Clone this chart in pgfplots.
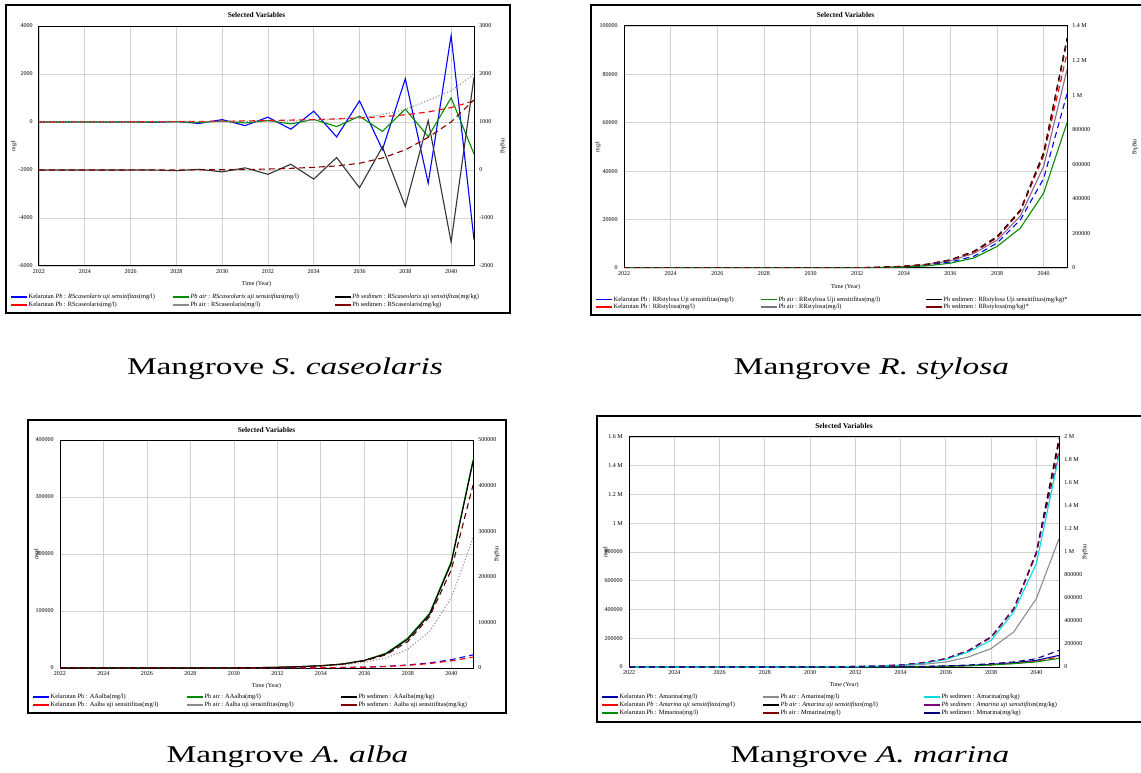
\documentclass[border=0pt]{standalone}
\usepackage{fontspec}
\setmainfont{Liberation Serif}
\usepackage{pgfplots}
\pgfplotsset{compat=1.18}

\definecolor{vblue}{RGB}{0,0,255}
\definecolor{vred}{RGB}{255,0,0}
\definecolor{vgreen}{RGB}{0,140,0}
\definecolor{vgray}{RGB}{140,140,140}
\definecolor{vpgray}{RGB}{130,110,140}
\definecolor{vdred}{RGB}{128,0,0}
\definecolor{vcyan}{RGB}{0,220,220}
\definecolor{vpurple}{RGB}{128,0,128}
\definecolor{vnavy}{RGB}{0,0,128}
\definecolor{gridgray}{RGB}{210,210,210}

\newcommand{\legbox}[2]{\makebox[#1][l]{#2}}

\pgfplotsset{
  vbase/.style={scale only axis, xmin=2022, xmax=2041, scaled ticks=false,
    tick style={draw=none}, axis line style={line width=0.5pt},
    ticklabel style={font=\fontsize{3}{3.5}\selectfont, inner sep=0pt},
    label style={font=\fontsize{3}{3.5}\selectfont},
    every axis plot/.append style={line width=0.55pt}},
  vleft/.style={vbase, xtick={2022,2024,...,2040},
    xticklabels={2022,2024,2026,2028,2030,2032,2034,2036,2038,2040},
    grid=major, major grid style={line width=0.35pt, gridgray},
    xticklabel style={anchor=center, yshift=-3pt},
    yticklabel style={anchor=east, xshift=-3pt},
    title={Selected Variables},
    title style={font=\bfseries\fontsize{3.7}{4}\selectfont, at={(axis description cs:0.5,1)}, anchor=center},
    xlabel={Time (Year)}, xlabel style={at={(axis description cs:0.5,0)}, anchor=center},
    ylabel={mg/l},
    legend columns=3, legend cell align=left,
    legend style={draw=none, fill=none, inner sep=0pt, row sep=0pt, column sep=0pt, anchor=north west,
      nodes={inner sep=0.3pt, font=\fontsize{3.2}{3.5}\selectfont, text height=2.5pt, text depth=0.85pt}},
    legend image code/.code={\draw[##1, line width=0.85pt] (0pt,0pt) -- (8pt,0pt);}},
  vright/.style={vbase, axis x line=none, axis y line*=right,
    yticklabel style={anchor=west, xshift=2.5pt},
    ylabel={mg/kg}, ylabel style={anchor=center, rotate=180}},
}

\begin{document}
\begin{tikzpicture}
\useasboundingbox (0,0) rectangle (570.5pt,386pt);
\draw[line width=0.9pt] (3pt,229.5pt) rectangle (255pt,383.5pt);
\draw[line width=0.9pt] (295.5pt,228.5pt) rectangle (575pt,383.5pt);
\draw[line width=0.9pt] (14pt,29.5pt) rectangle (253pt,176pt);
\draw[line width=0.9pt] (298.5pt,25pt) rectangle (575pt,178pt);

% ---------------- S. caseolaris ----------------
\begin{axis}[vleft, at={(19.5pt,253pt)}, width=217.5pt, height=120pt,
  ymin=-6000, ymax=4000, ytick={-6000,-4000,-2000,0,2000,4000},
  yticklabels={-6000,-4000,-2000,0,2000,4000},
  title style={yshift=-0.5pt}, xlabel style={yshift=-9pt},
  ylabel style={at={(axis description cs:-0.0575,0.5)}, anchor=center},
  legend style={at={(-0.0667,-0.1125)}}]
\addlegendimage{vblue}\addlegendentry{\legbox{71.5pt}{Kelarutan \textit{Pb} : \textit{RScaseolaris uji sensitifitas}(mg/l)}}
\addlegendimage{vgreen}\addlegendentry{\legbox{71.5pt}{\textit{Pb air} : \textit{RScaseolaris uji sensitifitas}(mg/l)}}
\addlegendimage{black}\addlegendentry{\legbox{71.5pt}{\textit{Pb sedimen} : \textit{RScaseolaris uji sensitifitas}(mg/kg)}}
\addlegendimage{vred}\addlegendentry{\legbox{71.5pt}{Kelarutan Pb : RScaseolaris(mg/l)}}
\addlegendimage{vgray}\addlegendentry{\legbox{71.5pt}{Pb air : RScaseolaris(mg/l)}}
\addlegendimage{vdred}\addlegendentry{\legbox{71.5pt}{Pb sedimen : RScaseolaris(mg/kg)}}
\addplot[forget plot, vblue] coordinates {(2022,0)(2023,0)(2024,5)(2025,-10)(2026,10)(2027,-15)(2028,20)(2029,-60)(2030,100)(2031,-150)(2032,200)(2033,-300)(2034,450)(2035,-620)(2036,880)(2037,-1150)(2038,1800)(2039,-2550)(2040,3600)(2041,-4900)};
\addplot[forget plot, vgreen] coordinates {(2022,0)(2023,0)(2024,0)(2025,0)(2026,0)(2027,0)(2028,10)(2029,-20)(2030,40)(2031,-40)(2032,60)(2033,-80)(2034,110)(2035,-190)(2036,240)(2037,-390)(2038,540)(2039,-610)(2040,1010)(2041,-1330)};
\addplot[forget plot, vred, densely dashed] coordinates {(2022,0)(2023,2)(2024,4)(2025,6)(2026,9)(2027,13)(2028,18)(2029,25)(2030,34)(2031,45)(2032,60)(2033,80)(2034,100)(2035,130)(2036,170)(2037,220)(2038,300)(2039,420)(2040,600)(2041,880)};
\addplot[forget plot, vgray, densely dotted] coordinates {(2022,0)(2023,0)(2024,0)(2025,1)(2026,2)(2027,3)(2028,5)(2029,8)(2030,12)(2031,18)(2032,28)(2033,45)(2034,70)(2035,110)(2036,180)(2037,300)(2038,520)(2039,900)(2040,1300)(2041,2000)};
\end{axis}
\begin{axis}[vright, at={(19.5pt,253pt)}, width=217.5pt, height=120pt,
  ymin=-2000, ymax=3000, ytick={-2000,-1000,0,1000,2000,3000},
  yticklabels={-2000,-1000,0,1000,2000,3000},
  ylabel style={at={(axis description cs:1.0667,0.5)}}]
\addplot[black!80] coordinates {(2022,0)(2023,0)(2024,0)(2025,0)(2026,0)(2027,0)(2028,-15)(2029,15)(2030,-40)(2031,45)(2032,-90)(2033,120)(2034,-190)(2035,260)(2036,-370)(2037,480)(2038,-760)(2039,1030)(2040,-1500)(2041,1930)};
\addplot[vdred, densely dashed] coordinates {(2022,0)(2023,0)(2024,0)(2025,0)(2026,1)(2027,2)(2028,3)(2029,4)(2030,5)(2031,10)(2032,20)(2033,35)(2034,55)(2035,85)(2036,140)(2037,250)(2038,420)(2039,680)(2040,1000)(2041,1460)};
\end{axis}

% ---------------- R. stylosa ----------------
\begin{axis}[vleft, at={(312pt,252pt)}, width=221.5pt, height=121pt,
  ymin=0, ymax=100000, ytick={0,20000,40000,60000,80000,100000},
  yticklabels={0,20000,40000,60000,80000,100000},
  title style={yshift=-0.5pt}, xlabel style={yshift=-9.5pt},
  ylabel style={at={(axis description cs:-0.0587,0.5)}, anchor=center},
  legend style={at={(-0.0655,-0.1116)}}]
\addlegendimage{vblue}\addlegendentry{\legbox{73pt}{Kelarutan Pb : RRstylosa Uji sensitifitas(mg/l)}}
\addlegendimage{vgreen}\addlegendentry{\legbox{73pt}{Pb air : RRstylosa Uji sensitifitas(mg/l)}}
\addlegendimage{black}\addlegendentry{\legbox{73pt}{Pb sedimen : RRstylosa Uji sensitifitas(mg/kg)*}}
\addlegendimage{vred}\addlegendentry{\legbox{73pt}{Kelarutan Pb : RRstylosa(mg/l)}}
\addlegendimage{vpgray}\addlegendentry{\legbox{73pt}{Pb air : RRstylosa(mg/l)}}
\addlegendimage{vdred}\addlegendentry{\legbox{73pt}{Pb sedimen : RRstylosa(mg/kg)*}}
\addplot[forget plot, vred, densely dashed] coordinates {(2022,0)(2026,0)(2030,0)(2031,30)(2032,100)(2033,300)(2034,700)(2035,1500)(2036,3200)(2037,6500)(2038,12500)(2039,23500)(2040,46500)(2041,88600)};
\addplot[forget plot, vpgray] coordinates {(2022,0)(2026,0)(2030,0)(2031,25)(2032,90)(2033,270)(2034,600)(2035,1400)(2036,3000)(2037,6000)(2038,11500)(2039,21500)(2040,42000)(2041,82000)};
\addplot[forget plot, vblue, densely dashed] coordinates {(2022,0)(2026,0)(2030,0)(2031,20)(2032,80)(2033,230)(2034,500)(2035,1200)(2036,2500)(2037,4800)(2038,10300)(2039,19900)(2040,37000)(2041,72000)};
\addplot[forget plot, vgreen] coordinates {(2022,0)(2026,0)(2030,0)(2031,15)(2032,60)(2033,180)(2034,400)(2035,900)(2036,2000)(2037,4100)(2038,8900)(2039,16500)(2040,31000)(2041,60000)};
\end{axis}
\begin{axis}[vright, at={(312pt,252pt)}, width=221.5pt, height=121pt,
  ymin=0, ymax=1400000, ytick={0,200000,400000,600000,800000,1000000,1200000,1400000},
  yticklabels={0,200000,400000,600000,800000,1 M,1.2 M,1.4 M},
  ylabel style={at={(axis description cs:1.1535,0.5)}}]
\addplot[black, densely dashed] coordinates {(2022,0)(2026,0)(2030,0)(2031,400)(2032,1400)(2033,4500)(2034,10000)(2035,22000)(2036,48000)(2037,97000)(2038,182000)(2039,336000)(2040,670000)(2041,1330000)};
\addplot[vdred, densely dashed] coordinates {(2022,0)(2026,0)(2030,0)(2031,380)(2032,1300)(2033,4200)(2034,9500)(2035,21000)(2036,46000)(2037,94000)(2038,176000)(2039,330000)(2040,655000)(2041,1310000)};
\end{axis}

% ---------------- A. alba ----------------
\begin{axis}[vleft, at={(30pt,52pt)}, width=206.5pt, height=114pt,
  ymin=0, ymax=400000, ytick={0,100000,200000,300000,400000},
  yticklabels={0,100000,200000,300000,400000},
  title style={yshift=-1pt}, xlabel style={yshift=-9pt},
  ylabel style={at={(axis description cs:-0.0557,0.5)}, anchor=center},
  legend style={at={(-0.0678,-0.1096)}}]
\addlegendimage{vblue}\addlegendentry{\legbox{67.5pt}{Kelarutan Pb : AAalba(mg/l)}}
\addlegendimage{vgreen}\addlegendentry{\legbox{67.5pt}{Pb air : AAalba(mg/l)}}
\addlegendimage{black}\addlegendentry{\legbox{67.5pt}{Pb sedimen : AAalba(mg/kg)}}
\addlegendimage{vred}\addlegendentry{\legbox{67.5pt}{Kelarutan Pb : Aalba uji sensitifitas(mg/l)}}
\addlegendimage{vgray}\addlegendentry{\legbox{67.5pt}{Pb air : Aalba uji sensitifitas(mg/l)}}
\addlegendimage{vdred}\addlegendentry{\legbox{67.5pt}{Pb sedimen : Aalba uji sensitifitas(mg/kg)}}
\addplot[forget plot, vgreen] coordinates {(2022,0)(2026,0)(2028,30)(2029,100)(2030,300)(2031,600)(2032,1200)(2033,2300)(2034,4000)(2035,7000)(2036,13400)(2037,26000)(2038,52500)(2039,96000)(2040,187000)(2041,365000)};
\addplot[forget plot, vgray, densely dotted] coordinates {(2022,0)(2026,0)(2028,20)(2029,70)(2030,200)(2031,450)(2032,900)(2033,1700)(2034,3000)(2035,5500)(2036,10000)(2037,17500)(2038,33000)(2039,64000)(2040,123000)(2041,228000)};
\addplot[forget plot, vblue, densely dashed] coordinates {(2022,0)(2026,0)(2029,20)(2030,40)(2031,80)(2032,150)(2033,280)(2034,500)(2035,900)(2036,1600)(2037,2900)(2038,5300)(2039,8800)(2040,14600)(2041,23000)};
\addplot[forget plot, vred, densely dashed] coordinates {(2022,0)(2026,0)(2029,15)(2030,35)(2031,70)(2032,130)(2033,250)(2034,450)(2035,800)(2036,1400)(2037,2600)(2038,4700)(2039,7800)(2040,12500)(2041,19000)};
\end{axis}
\begin{axis}[vright, at={(30pt,52pt)}, width=206.5pt, height=114pt,
  ymin=0, ymax=500000, ytick={0,100000,200000,300000,400000,500000},
  yticklabels={0,100000,200000,300000,400000,500000},
  ylabel style={at={(axis description cs:1.058,0.5)}}]
\addplot[black] coordinates {(2022,0)(2026,0)(2028,40)(2029,120)(2030,370)(2031,750)(2032,1500)(2033,2900)(2034,5000)(2035,8800)(2036,16500)(2037,31000)(2038,63000)(2039,117000)(2040,230000)(2041,452000)};
\addplot[vdred!60!black, densely dashed] coordinates {(2022,0)(2026,0)(2028,35)(2029,110)(2030,350)(2031,700)(2032,1400)(2033,2700)(2034,4700)(2035,8300)(2036,15500)(2037,29000)(2038,58000)(2039,112500)(2040,215000)(2041,401000)};
\end{axis}

% ---------------- A. marina ----------------
\begin{axis}[vleft, at={(314.5pt,52.5pt)}, width=215pt, height=115pt,
  ymin=0, ymax=1600000, ytick={0,200000,400000,600000,800000,1000000,1200000,1400000,1600000},
  yticklabels={0,200000,400000,600000,800000,1 M,1.2 M,1.4 M,1.6 M},
  title style={yshift=-0.5pt}, xlabel style={yshift=-9pt},
  ylabel style={at={(axis description cs:-0.0535,0.5)}, anchor=center},
  legend style={at={(-0.0651,-0.113)}}]
\addlegendimage{vnavy!60!vblue}\addlegendentry{\legbox{71pt}{Kelarutan Pb : Amarina(mg/l)}}
\addlegendimage{vgray}\addlegendentry{\legbox{71pt}{Pb air : Amarina(mg/l)}}
\addlegendimage{vcyan}\addlegendentry{\legbox{71pt}{Pb sedimen : Amarina(mg/kg)}}
\addlegendimage{vred}\addlegendentry{\legbox{71pt}{Kelarutan \textit{Pb} : \textit{Amarina uji sensitifitas}(mg/l)}}
\addlegendimage{black}\addlegendentry{\legbox{71pt}{\textit{Pb air} : \textit{Amarina uji sensitifitas}(mg/l)}}
\addlegendimage{vpurple}\addlegendentry{\legbox{71pt}{\textit{Pb sedimen} : \textit{Amarina uji sensitifitas}(mg/kg)}}
\addlegendimage{vgreen}\addlegendentry{\legbox{71pt}{Kelarutan Pb : Mmarina(mg/l)}}
\addlegendimage{vdred}\addlegendentry{\legbox{71pt}{Pb air : Mmarina(mg/l)}}
\addlegendimage{vnavy}\addlegendentry{\legbox{71pt}{Pb sedimen : Mmarina(mg/kg)}}
\addplot[forget plot, vgray] coordinates {(2022,0)(2026,0)(2028,60)(2029,200)(2030,500)(2031,1100)(2032,2200)(2033,4500)(2034,9000)(2035,18600)(2036,35000)(2037,70000)(2038,128000)(2039,244000)(2040,476000)(2041,893000)};
\addplot[forget plot, vdred, densely dashed] coordinates {(2022,0)(2026,0)(2028,100)(2029,400)(2030,800)(2031,1700)(2032,3500)(2033,7000)(2034,14000)(2035,29000)(2036,57000)(2037,113000)(2038,205000)(2039,400000)(2040,790000)(2041,1560000)};
\addplot[forget plot, black, densely dashed] coordinates {(2022,0)(2026,0)(2028,100)(2029,400)(2030,800)(2031,1700)(2032,3500)(2033,7000)(2034,14000)(2035,30000)(2036,58000)(2037,116000)(2038,209000)(2039,406000)(2040,800000)(2041,1590000)};
\addplot[forget plot, vnavy!60!vblue] coordinates {(2022,0)(2026,0)(2030,50)(2031,120)(2032,300)(2033,700)(2034,1500)(2035,3000)(2036,6000)(2037,11000)(2038,18000)(2039,30000)(2040,46000)(2041,81000)};
\addplot[forget plot, vred, densely dashed] coordinates {(2022,0)(2026,0)(2030,40)(2031,100)(2032,250)(2033,600)(2034,1200)(2035,2500)(2036,5000)(2037,9500)(2038,16000)(2039,26000)(2040,40000)(2041,70000)};
\addplot[forget plot, vgreen] coordinates {(2022,0)(2026,0)(2030,30)(2031,80)(2032,200)(2033,500)(2034,1000)(2035,2200)(2036,4500)(2037,8000)(2038,14000)(2039,23000)(2040,36000)(2041,60000)};
\end{axis}
\begin{axis}[vright, at={(314.5pt,52.5pt)}, width=215pt, height=115pt,
  ymin=0, ymax=2000000, ytick={0,200000,400000,600000,800000,1000000,1200000,1400000,1600000,1800000,2000000},
  yticklabels={0,200000,400000,600000,800000,1 M,1.2 M,1.4 M,1.6 M,1.8 M,2 M},
  ylabel style={at={(axis description cs:1.0605,0.5)}}]
\addplot[vcyan] coordinates {(2022,0)(2026,0)(2028,120)(2029,400)(2030,1000)(2031,2000)(2032,4000)(2033,8000)(2034,16000)(2035,33000)(2036,65000)(2037,130000)(2038,232000)(2039,478000)(2040,900000)(2041,1840000)};
\addplot[vpurple, densely dashed] coordinates {(2022,0)(2026,0)(2028,120)(2029,400)(2030,1000)(2031,2100)(2032,4300)(2033,8700)(2034,17500)(2035,37500)(2036,72000)(2037,145000)(2038,262000)(2039,507000)(2040,986000)(2041,1880000)};
\addplot[vnavy, densely dashed] coordinates {(2022,0)(2026,0)(2030,60)(2031,150)(2032,300)(2033,700)(2034,1500)(2035,4500)(2036,9000)(2037,17500)(2038,29000)(2039,44000)(2040,72000)(2041,145000)};
\end{axis}

\node[anchor=base, xscale=1.39, font=\fontsize{12}{14}\selectfont] at (142.5pt,198.5pt) {Mangrove \textit{S.\ caseolaris}};
\node[anchor=base, xscale=1.39, font=\fontsize{12}{14}\selectfont] at (435.75pt,198.5pt) {Mangrove \textit{R.\ stylosa}};
\node[anchor=base, xscale=1.39, font=\fontsize{12}{14}\selectfont] at (143.75pt,5pt) {Mangrove \textit{A.\ alba}};
\node[anchor=base, xscale=1.39, font=\fontsize{12}{14}\selectfont] at (435pt,5pt) {Mangrove \textit{A.\ marina}};
\end{tikzpicture}
\end{document}
